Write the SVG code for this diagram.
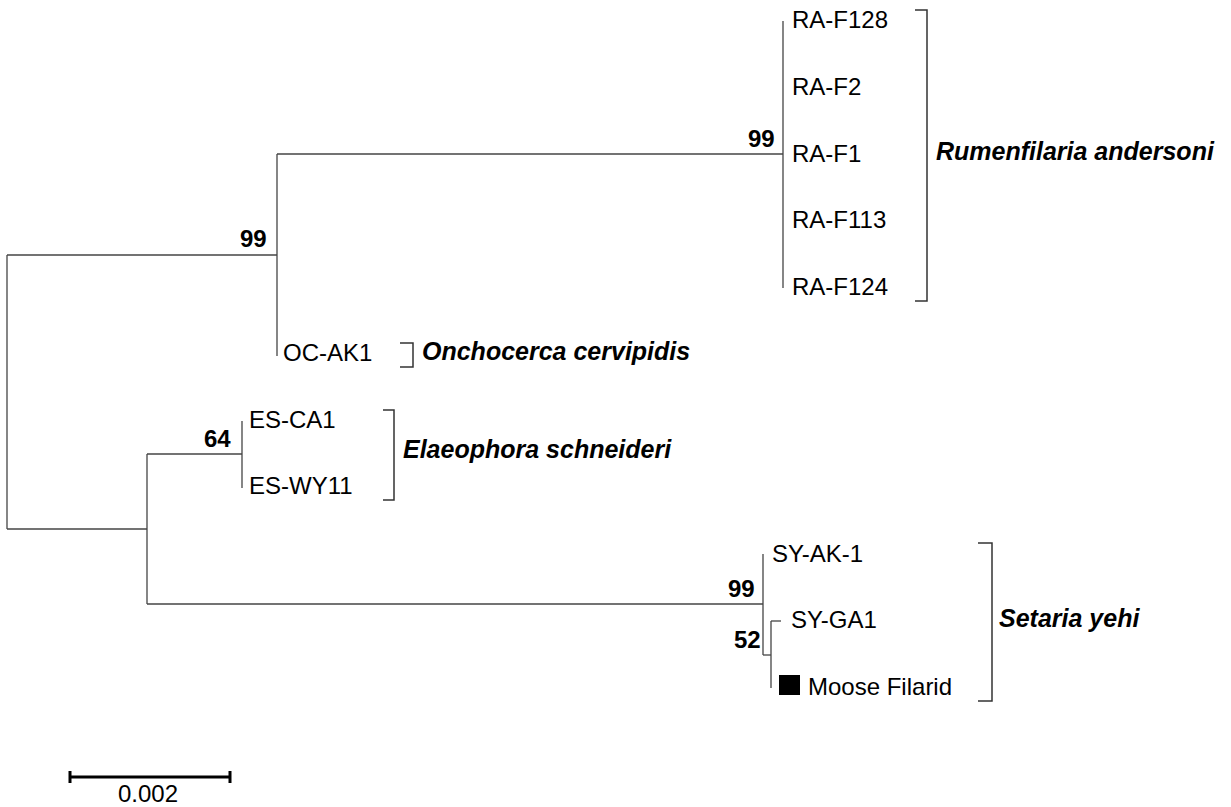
<svg xmlns="http://www.w3.org/2000/svg" width="1231" height="807" viewBox="0 0 1231 807">
<style>
text{font-family:"Liberation Sans",Arial,sans-serif;font-size:24px;fill:#000}
.bs{font-weight:bold}
.sp{font-weight:bold;font-style:italic;font-size:25px}
.br{fill:none;stroke:#333;stroke-width:1.5}
.tree{fill:none;stroke:#444;stroke-width:1.3}
</style>
<rect width="1231" height="807" fill="#fff"/>
<g id="connectors" class="tree">
<path d="M7,255 V529"/>
<path d="M7,255 H277"/>
<path d="M7,529 H147"/>
<path d="M277,154 V356"/>
<path d="M277,154 H783"/>
<path d="M783,21 V288"/>
<path d="M147,454 V604"/>
<path d="M147,454 H242"/>
<path d="M242,421 V488"/>
<path d="M147,604 H763"/>
<path d="M763,554 V655"/>
<path d="M763,655 H771"/>
<path d="M771,621 V688"/>
<path d="M771,621 H781"/>
</g>
<g id="support-values">
<text class="bs" x="748" y="147">99</text>
<text class="bs" x="240" y="247">99</text>
<text class="bs" x="204" y="447">64</text>
<text class="bs" x="728" y="597">99</text>
<text class="bs" x="734" y="648">52</text>
</g>
<g id="RA-F128"><text x="792" y="28">RA-F128</text></g>
<g id="RA-F2"><text x="792" y="95">RA-F2</text></g>
<g id="RA-F1"><text x="792" y="162">RA-F1</text></g>
<g id="RA-F113"><text x="792" y="228">RA-F113</text></g>
<g id="RA-F124"><text x="792" y="295">RA-F124</text></g>
<g id="OC-AK1"><text x="283" y="361">OC-AK1</text></g>
<g id="ES-CA1"><text x="249" y="428">ES-CA1</text></g>
<g id="ES-WY11"><text x="249" y="494">ES-WY11</text></g>
<g id="SY-AK-1"><text x="772" y="562">SY-AK-1</text></g>
<g id="SY-GA1"><text x="791" y="628">SY-GA1</text></g>
<g id="Moose-Filarid"><rect x="779" y="675" width="21" height="20" fill="#000"/><text x="808" y="695">Moose Filarid</text></g>
<g id="clade-rumenfilaria"><path class="br" d="M915,10 H927 V301 H915"/><text class="sp" x="936" y="160">Rumenfilaria andersoni</text></g>
<g id="clade-onchocerca"><path class="br" d="M400,343 H413 V367 H400"/><text class="sp" x="422" y="360">Onchocerca cervipidis</text></g>
<g id="clade-elaeophora"><path class="br" d="M383,410 H394 V500 H383"/><text class="sp" x="403" y="458">Elaeophora schneideri</text></g>
<g id="clade-setaria"><path class="br" d="M978,543 H992 V701 H978"/><text class="sp" x="999" y="627">Setaria yehi</text></g>
<g id="scale-bar">
<path d="M70,777 H230 M70,771 V783 M230,771 V783" fill="none" stroke="#000" stroke-width="3"/>
<text x="148" y="802" text-anchor="middle">0.002</text>
</g>
</svg>
